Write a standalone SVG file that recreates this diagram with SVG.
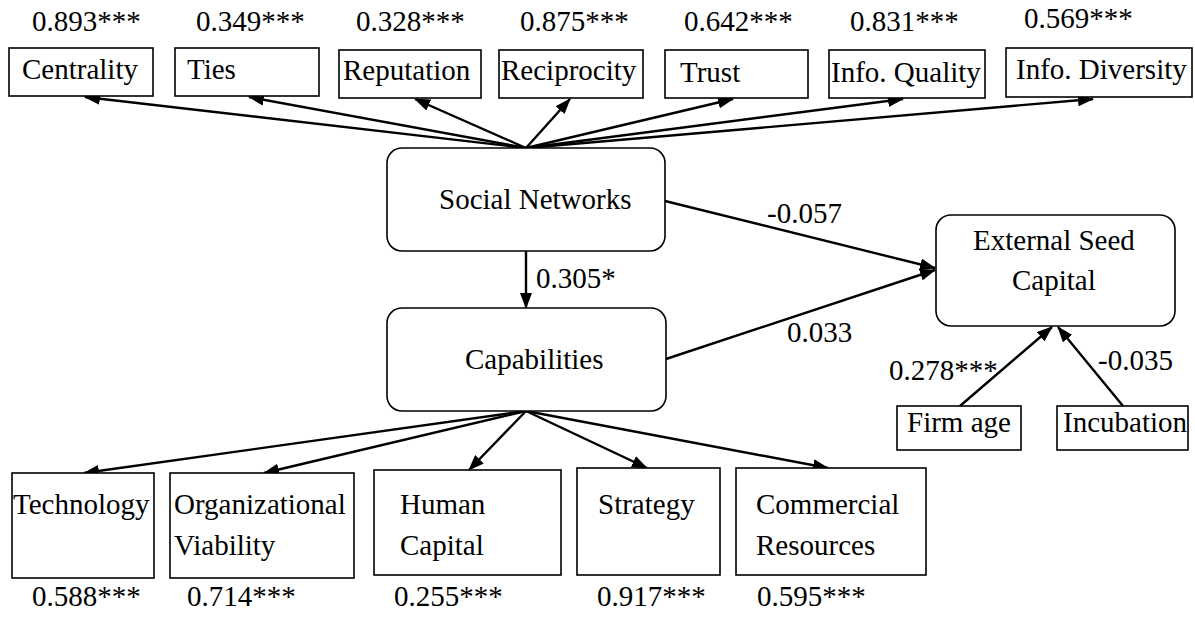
<svg xmlns="http://www.w3.org/2000/svg" width="1195" height="620" viewBox="0 0 1195 620">
  <style>
    text { font-family: "Liberation Serif", "Times New Roman", serif; font-size: 29px; fill: #000; }
    .box { fill: #fff; stroke: #000; stroke-width: 1.6; }
    .latent { fill: #fff; stroke: #000; stroke-width: 1.6; }
    .edge { stroke: #000; stroke-width: 2.4; fill: none; marker-end: url(#arrow); }
  </style>
  <defs>
    <marker id="arrow" viewBox="0 0 16 12" refX="15" refY="6" markerWidth="16" markerHeight="12" markerUnits="userSpaceOnUse" orient="auto">
      <path d="M0,0 L16,6 L0,12 z" fill="#000"/>
    </marker>
  </defs>

  <rect width="1195" height="620" fill="#fff"/>

  <!-- connectors -->
  <g id="connectors">
    <!-- social networks indicators -->
    <line class="edge" x1="526" y1="148" x2="85" y2="97"/>
    <line class="edge" x1="526" y1="148" x2="249" y2="97"/>
    <line class="edge" x1="526" y1="148" x2="415" y2="99"/>
    <line class="edge" x1="526" y1="148" x2="570" y2="99"/>
    <line class="edge" x1="526" y1="148" x2="733" y2="99"/>
    <line class="edge" x1="526" y1="148" x2="903" y2="99"/>
    <line class="edge" x1="526" y1="148" x2="1093" y2="99"/>
    <!-- structural paths -->
    <line class="edge" x1="526" y1="251" x2="526" y2="308"/>
    <line class="edge" x1="665" y1="201" x2="935" y2="268"/>
    <line class="edge" x1="666" y1="359" x2="935" y2="270"/>
    <line class="edge" x1="960" y1="406" x2="1052" y2="327"/>
    <line class="edge" x1="1123" y1="406" x2="1058" y2="327"/>
    <!-- capabilities indicators -->
    <line class="edge" x1="526" y1="411" x2="84" y2="473"/>
    <line class="edge" x1="526" y1="411" x2="264" y2="473"/>
    <line class="edge" x1="526" y1="411" x2="469" y2="470"/>
    <line class="edge" x1="526" y1="411" x2="647" y2="468"/>
    <line class="edge" x1="526" y1="411" x2="828" y2="468"/>
  </g>

  <!-- path coefficients -->
  <g id="path-labels">
    <text x="536" y="288">0.305*</text>
    <text x="767" y="223">-0.057</text>
    <text x="787" y="342">0.033</text>
    <text x="889" y="380">0.278***</text>
    <text x="1098" y="370">-0.035</text>
  </g>

  <!-- social networks indicators -->
  <g id="centrality">
    <text x="32" y="31">0.893***</text>
    <rect class="box" x="9" y="48" width="144" height="48"/>
    <text x="22" y="79">Centrality</text>
  </g>
  <g id="ties">
    <text x="196" y="31">0.349***</text>
    <rect class="box" x="175" y="48" width="144" height="48"/>
    <text x="187" y="79">Ties</text>
  </g>
  <g id="reputation">
    <text x="356" y="31">0.328***</text>
    <rect class="box" x="339" y="50" width="142" height="48"/>
    <text x="343" y="80">Reputation</text>
  </g>
  <g id="reciprocity">
    <text x="520" y="31">0.875***</text>
    <rect class="box" x="499" y="50" width="144" height="48"/>
    <text x="501" y="80">Reciprocity</text>
  </g>
  <g id="trust">
    <text x="684" y="31">0.642***</text>
    <rect class="box" x="665" y="50" width="143" height="48"/>
    <text x="680" y="82">Trust</text>
  </g>
  <g id="info-quality">
    <text x="850" y="31">0.831***</text>
    <rect class="box" x="829" y="50" width="156" height="48"/>
    <text x="831" y="82">Info. Quality</text>
  </g>
  <g id="info-diversity">
    <text x="1024" y="28">0.569***</text>
    <rect class="box" x="1006" y="48" width="186" height="49"/>
    <text x="1016" y="79">Info. Diversity</text>
  </g>

  <!-- latent constructs -->
  <g id="social-networks">
    <rect class="latent" x="387" y="148" width="278" height="103" rx="15"/>
    <text x="439" y="209">Social Networks</text>
  </g>
  <g id="capabilities">
    <rect class="latent" x="387" y="308" width="279" height="103" rx="15"/>
    <text x="465" y="369">Capabilities</text>
  </g>
  <g id="external-seed-capital">
    <rect class="latent" x="936" y="215" width="239" height="111" rx="15"/>
    <text x="973" y="250">External Seed</text>
    <text x="1012" y="290">Capital</text>
  </g>

  <!-- controls -->
  <g id="firm-age">
    <rect class="box" x="897" y="406" width="124" height="44"/>
    <text x="907" y="432">Firm age</text>
  </g>
  <g id="incubation">
    <rect class="box" x="1057" y="406" width="131" height="44"/>
    <text x="1063" y="432">Incubation</text>
  </g>

  <!-- capabilities indicators -->
  <g id="technology">
    <rect class="box" x="12" y="473" width="142" height="105"/>
    <text x="13" y="514">Technology</text>
    <text x="32" y="606">0.588***</text>
  </g>
  <g id="organizational-viability">
    <rect class="box" x="170" y="473" width="184" height="105"/>
    <text x="174" y="514">Organizational</text>
    <text x="174" y="555">Viability</text>
    <text x="187" y="606">0.714***</text>
  </g>
  <g id="human-capital">
    <rect class="box" x="374" y="470" width="187" height="105"/>
    <text x="400" y="514">Human</text>
    <text x="400" y="555">Capital</text>
    <text x="394" y="606">0.255***</text>
  </g>
  <g id="strategy">
    <rect class="box" x="577" y="468" width="143" height="107"/>
    <text x="598" y="514">Strategy</text>
    <text x="597" y="606">0.917***</text>
  </g>
  <g id="commercial-resources">
    <rect class="box" x="736" y="468" width="190" height="107"/>
    <text x="756" y="514">Commercial</text>
    <text x="756" y="555">Resources</text>
    <text x="757" y="606">0.595***</text>
  </g>
</svg>
